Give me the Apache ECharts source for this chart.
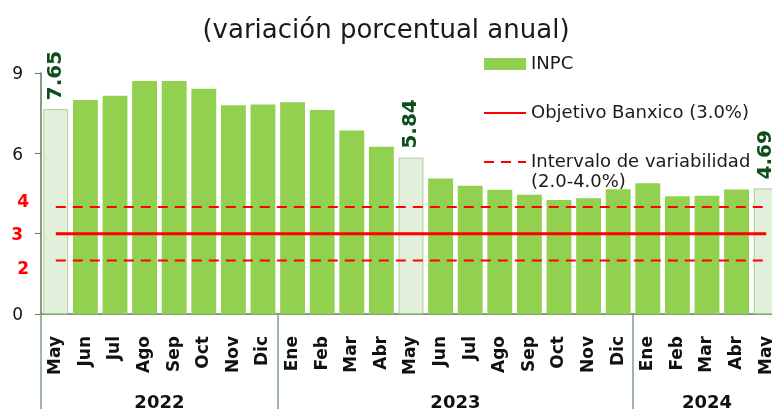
<!DOCTYPE html>
<html>
<head>
<meta charset="utf-8">
<script src="https://cdn.jsdelivr.net/npm/echarts@6/dist/echarts.min.js"></script>
<style>
  html, body { margin: 0; padding: 0; background: #fff; }
  #chart { width: 772px; height: 409px; }
</style>
</head>
<body>
<div id="chart"></div>
<script>
// meses y años
const meses = ['May', 'Jun', 'Jul', 'Ago', 'Sep', 'Oct', 'Nov', 'Dic',
  'Ene', 'Feb', 'Mar', 'Abr', 'May', 'Jun', 'Jul', 'Ago', 'Sep', 'Oct', 'Nov', 'Dic',
  'Ene', 'Feb', 'Mar', 'Abr', 'May']
const anios = ['2022', '2023', '2024']
const mesesPorAnio = [8, 12, 5]

// inflacion anual INPC (%)
const inpc = [7.65, 7.99, 8.15, 8.70, 8.70, 8.41, 7.80, 7.82,
  7.91, 7.62, 6.85, 6.25, 5.84, 5.06, 4.79, 4.64, 4.45, 4.26, 4.32, 4.66,
  4.88, 4.40, 4.42, 4.65, 4.69]
// meses resaltados (mayo de cada año)
const destacados = [0, 12, 24]

// objetivo e intervalo de Banxico
const objetivo = [3, 3, 3, 3, 3, 3, 3, 3, 3, 3, 3, 3, 3, 3, 3, 3, 3, 3, 3, 3, 3, 3, 3, 3, 3]
const limSup = [4, 4, 4, 4, 4, 4, 4, 4, 4, 4, 4, 4, 4, 4, 4, 4, 4, 4, 4, 4, 4, 4, 4, 4, 4]
const limInf = [2, 2, 2, 2, 2, 2, 2, 2, 2, 2, 2, 2, 2, 2, 2, 2, 2, 2, 2, 2, 2, 2, 2, 2, 2]

const yTicks = [0, 3, 6, 9]
const yRojos = [2, 4]

const FONT = 'DejaVu Sans'
const VERDE = '#92d050'
const EJE = '#5b7f5b'

// centro de cada año sobre el eje de meses
let acum = 0
const centros = mesesPorAnio.map(n => {
  const c = acum + n / 2
  acum += n
  return c
})
const inicios = [0]
mesesPorAnio.slice(0, -1).forEach(n => inicios.push(inicios[inicios.length - 1] + n))

const chart = echarts.init(document.getElementById('chart'), null, { renderer: 'canvas' })

const barData = inpc.map((v, i) => {
  if (destacados.indexOf(i) < 0) return v
  return {
    value: v,
    itemStyle: { color: '#e2efda', borderColor: '#a9d18e', borderWidth: 1 },
    label: { show: true }
  }
})

const option = {
  backgroundColor: '#fff',
  animation: false,
  title: {
    text: '(variación porcentual anual)',
    left: 'center',
    top: 18,
    padding: 0,
    textStyle: { fontFamily: FONT, fontSize: 26, fontWeight: 'normal', color: '#1a1a1a' }
  },
  legend: [
    {
      orient: 'vertical',
      left: 483,
      top: 54,
      padding: 0,
      itemWidth: 42,
      itemHeight: 12,
      itemGap: 29,
      textStyle: { fontFamily: FONT, fontSize: 18, lineHeight: 20, color: '#1a1a1a' },
      selectedMode: false,
      data: [
        { name: 'INPC', icon: 'rect' },
        { name: 'Objetivo Banxico (3.0%)', itemStyle: { opacity: 0 } }
      ]
    },
    {
      orient: 'vertical',
      left: 483,
      top: 132,
      padding: 0,
      itemWidth: 42,
      itemHeight: 12,
      textStyle: { fontFamily: FONT, fontSize: 18, lineHeight: 20, color: '#1a1a1a' },
      selectedMode: false,
      formatter: name => '\n' + name + '\n(2.0-4.0%)',
      data: [{ name: 'Intervalo de variabilidad', itemStyle: { opacity: 0 } }]
    }
  ],
  grid: { left: 41, top: 73, width: 740, height: 241, containLabel: false, outerBoundsMode: 'none' },
  xAxis: [
    {
      type: 'category',
      data: meses,
      boundaryGap: true,
      axisLine: { lineStyle: { color: EJE, width: 1.5 } },
      axisTick: {
        show: true,
        length: 95,
        interval: i => inicios.indexOf(i) >= 0,
        lineStyle: { color: '#7fa07f', width: 1.5 }
      },
      axisLabel: {
        interval: 0,
        rotate: 90,
        margin: 22,
        fontFamily: FONT,
        fontSize: 17,
        fontWeight: 'bold',
        color: '#111'
      }
    },
    {
      type: 'value',
      min: 0,
      max: meses.length,
      interval: 0.5,
      position: 'bottom',
      offset: 80,
      axisLine: { show: false },
      axisTick: { show: false },
      splitLine: { show: false },
      axisLabel: {
        margin: 0,
        fontFamily: FONT,
        fontSize: 18,
        fontWeight: 'bold',
        color: '#111',
        formatter: v => {
          const k = centros.indexOf(v)
          return k >= 0 ? anios[k] : ''
        }
      }
    }
  ],
  yAxis: [
    {
      type: 'value',
      min: 0,
      max: 9,
      interval: 3,
      axisLine: { show: true, lineStyle: { color: EJE, width: 1.5 } },
      axisTick: { show: true, length: 6, lineStyle: { color: EJE } },
      splitLine: { show: false },
      axisLabel: {
        margin: 18,
        fontFamily: FONT,
        fontSize: 17,
        color: '#111',
        padding: [4, 0, 0, 0],
        formatter: v => yTicks.indexOf(v) >= 0 ? (v === 3 ? '{r|3}' : String(v)) : '',
        rich: { r: { color: '#ff0000', fontWeight: 'bold', fontSize: 17, fontFamily: FONT } }
      }
    },
    {
      type: 'value',
      min: 0,
      max: 9,
      interval: 1,
      position: 'left',
      axisLine: { show: false },
      axisTick: { show: false },
      splitLine: { show: false },
      axisLabel: {
        margin: 12,
        formatter: v => {
          if (yRojos.indexOf(v) < 0) return ''
          return v > 3 ? '{up|' + v + '}' : '{dn|' + v + '}'
        },
        rich: {
          up: { color: '#ff0000', fontWeight: 'bold', fontSize: 17, fontFamily: FONT, padding: [0, 0, 8, 0] },
          dn: { color: '#ff0000', fontWeight: 'bold', fontSize: 17, fontFamily: FONT, padding: [18, 0, 0, 0] }
        }
      }
    }
  ],
  series: [
    {
      name: 'INPC',
      type: 'bar',
      xAxisIndex: 0,
      yAxisIndex: 0,
      barCategoryGap: '16%',
      itemStyle: { color: VERDE },
      label: {
        show: false,
        position: 'top',
        rotate: 90,
        align: 'left',
        verticalAlign: 'middle',
        distance: 9,
        fontFamily: FONT,
        fontSize: 20,
        fontWeight: 'bold',
        color: '#0e4d1c',
        formatter: p => p.value.toFixed(2)
      },
      data: barData
    },
    {
      name: 'Objetivo Banxico (3.0%)',
      type: 'line',
      xAxisIndex: 0,
      yAxisIndex: 0,
      symbol: 'none',
      z: 5,
      lineStyle: { color: '#ff0000', width: 3 },
      itemStyle: { color: '#ff0000' },
      data: objetivo
    },
    {
      name: 'Intervalo de variabilidad',
      type: 'line',
      xAxisIndex: 0,
      yAxisIndex: 0,
      symbol: 'none',
      z: 5,
      lineStyle: { color: '#ff0000', width: 2, type: [10, 7] },
      itemStyle: { color: '#ff0000' },
      data: limSup
    },
    {
      name: 'Intervalo de variabilidad',
      type: 'line',
      xAxisIndex: 0,
      yAxisIndex: 0,
      symbol: 'none',
      z: 5,
      lineStyle: { color: '#ff0000', width: 2, type: [10, 7] },
      itemStyle: { color: '#ff0000' },
      data: limInf
    }
  ]
}

chart.setOption(option)
</script>
</body>
</html>
